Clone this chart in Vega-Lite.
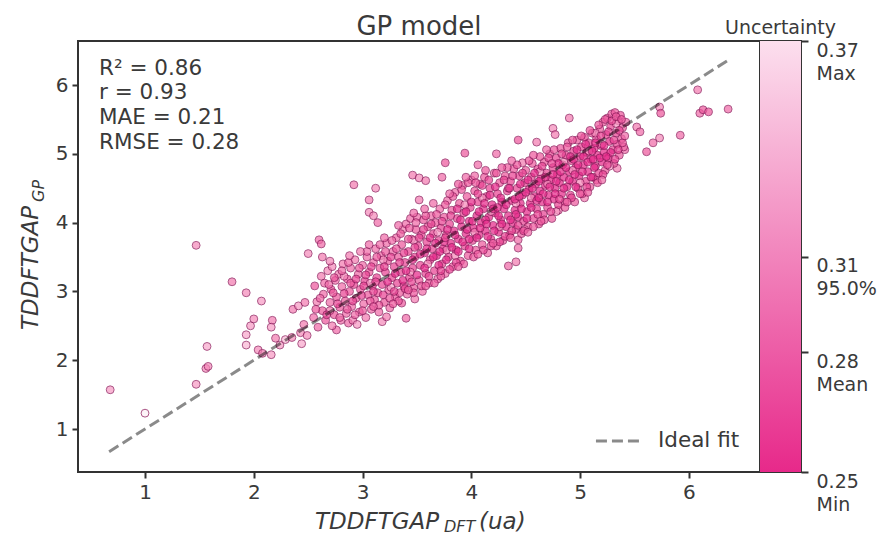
{"$schema":"https://vega.github.io/schema/vega-lite/v6.json","background":"white","bounds":"flush","padding":{"left":19,"top":13,"right":2,"bottom":1},"spacing":0,"config":{"view":{"stroke":"#333333","strokeWidth":2},"axis":{"grid":false,"domain":false,"tickColor":"#333333","tickWidth":2,"tickSize":6,"labelColor":"#3a3a3a","labelFont":"DejaVu Sans","titleFont":"DejaVu Sans"},"title":{"font":"DejaVu Sans","color":"#3a3a3a","fontWeight":"normal"},"text":{"font":"DejaVu Sans"}},"hconcat":[{"width":682,"height":431,"title":{"text":"GP model","fontSize":26,"offset":1},"encoding":{"x":{"field":"dft","type":"quantitative","scale":{"domain":[0.384,6.653],"nice":false,"zero":false},"axis":{"title":null,"values":[1,2,3,4,5,6],"labelFontSize":20,"labelPadding":4}},"y":{"field":"gp","type":"quantitative","scale":{"domain":[0.375,6.64],"nice":false,"zero":false},"axis":{"title":null,"values":[1,2,3,4,5,6],"labelFontSize":20,"labelPadding":4}}},"layer":[{"data":{"values":[
{"dft":0.68,"gp":1.57,"unc":0.31},{"dft":1.0,"gp":1.23,"unc":0.37},{"dft":1.47,"gp":3.67,"unc":0.3},{"dft":1.47,"gp":1.65,"unc":0.31},{"dft":1.56,"gp":1.88,"unc":0.3},{"dft":1.58,"gp":1.91,"unc":0.3},{"dft":1.57,"gp":2.2,"unc":0.32},{"dft":1.8,"gp":3.14,"unc":0.29},{"dft":1.93,"gp":2.98,"unc":0.3},{"dft":2.07,"gp":2.86,"unc":0.31},{"dft":2.0,"gp":2.6,"unc":0.3},{"dft":1.97,"gp":2.5,"unc":0.31},{"dft":1.93,"gp":2.37,"unc":0.32},{"dft":1.93,"gp":2.22,"unc":0.33},{"dft":2.04,"gp":2.15,"unc":0.3},{"dft":2.08,"gp":2.1,"unc":0.29},{"dft":2.16,"gp":2.08,"unc":0.31},{"dft":2.17,"gp":2.58,"unc":0.29},{"dft":2.16,"gp":2.48,"unc":0.31},{"dft":2.2,"gp":2.32,"unc":0.29},{"dft":2.24,"gp":2.22,"unc":0.31},{"dft":2.29,"gp":2.3,"unc":0.33},{"dft":2.35,"gp":2.33,"unc":0.3},{"dft":2.36,"gp":2.74,"unc":0.29},{"dft":2.41,"gp":2.79,"unc":0.31},{"dft":2.44,"gp":2.24,"unc":0.32},{"dft":2.43,"gp":2.4,"unc":0.3},{"dft":2.46,"gp":2.52,"unc":0.29},{"dft":2.47,"gp":2.84,"unc":0.29},{"dft":2.49,"gp":2.36,"unc":0.3},
{"dft":2.92,"gp":4.55,"unc":0.29},{"dft":3.12,"gp":4.5,"unc":0.3},{"dft":3.06,"gp":4.33,"unc":0.29},{"dft":3.06,"gp":4.15,"unc":0.3},{"dft":3.1,"gp":4.1,"unc":0.3},{"dft":3.14,"gp":4.0,"unc":0.28},{"dft":2.6,"gp":3.75,"unc":0.28},{"dft":2.62,"gp":3.69,"unc":0.28},{"dft":2.5,"gp":3.55,"unc":0.3},{"dft":2.63,"gp":3.5,"unc":0.29},{"dft":3.46,"gp":4.69,"unc":0.29},{"dft":3.52,"gp":4.65,"unc":0.3},{"dft":3.58,"gp":4.61,"unc":0.29},{"dft":3.73,"gp":4.66,"unc":0.28},{"dft":3.52,"gp":4.33,"unc":0.29},{"dft":3.94,"gp":5.01,"unc":0.27},{"dft":3.76,"gp":4.87,"unc":0.27},{"dft":4.06,"gp":4.84,"unc":0.28},{"dft":4.23,"gp":5.0,"unc":0.28},{"dft":4.43,"gp":5.2,"unc":0.27},{"dft":4.9,"gp":5.52,"unc":0.29},{"dft":4.75,"gp":5.37,"unc":0.3},{"dft":4.77,"gp":5.28,"unc":0.29},{"dft":4.6,"gp":5.17,"unc":0.29},{"dft":4.47,"gp":4.87,"unc":0.29},{"dft":5.52,"gp":5.39,"unc":0.29},{"dft":5.55,"gp":5.32,"unc":0.28},{"dft":5.73,"gp":5.68,"unc":0.3},{"dft":5.74,"gp":5.59,"unc":0.27},{"dft":6.08,"gp":5.93,"unc":0.29},{"dft":6.1,"gp":5.59,"unc":0.28},{"dft":6.13,"gp":5.64,"unc":0.27},{"dft":6.18,"gp":5.61,"unc":0.27},{"dft":6.36,"gp":5.65,"unc":0.28},{"dft":5.92,"gp":5.27,"unc":0.28},{"dft":5.73,"gp":5.23,"unc":0.3},{"dft":5.67,"gp":5.16,"unc":0.28},{"dft":5.61,"gp":5.03,"unc":0.27},{"dft":4.34,"gp":3.37,"unc":0.28},{"dft":4.41,"gp":3.43,"unc":0.29},{"dft":4.43,"gp":3.63,"unc":0.28},{"dft":4.43,"gp":3.75,"unc":0.28},{"dft":4.8,"gp":4.18,"unc":0.29},{"dft":5.04,"gp":4.36,"unc":0.29},{"dft":5.34,"gp":4.79,"unc":0.29},{"dft":5.15,"gp":4.62,"unc":0.28},{"dft":5.41,"gp":5.06,"unc":0.28},{"dft":3.36,"gp":2.83,"unc":0.27},{"dft":3.48,"gp":2.89,"unc":0.29},{"dft":3.4,"gp":2.61,"unc":0.28},{"dft":3.18,"gp":2.56,"unc":0.3},{"dft":3.22,"gp":2.63,"unc":0.29},{"dft":2.76,"gp":2.44,"unc":0.28},{"dft":2.87,"gp":2.54,"unc":0.28},
{"dft":2.55,"gp":2.62,"unc":0.28},{"dft":2.58,"gp":2.85,"unc":0.29},{"dft":2.56,"gp":3.08,"unc":0.27},{"dft":2.59,"gp":2.48,"unc":0.28},{"dft":2.62,"gp":3.22,"unc":0.29},{"dft":2.63,"gp":2.72,"unc":0.27},{"dft":2.64,"gp":2.96,"unc":0.28},{"dft":2.65,"gp":3.12,"unc":0.28},{"dft":2.66,"gp":2.58,"unc":0.27},{"dft":2.68,"gp":3.3,"unc":0.3},{"dft":2.7,"gp":2.84,"unc":0.28},{"dft":2.71,"gp":3.03,"unc":0.27},{"dft":2.72,"gp":2.5,"unc":0.29},{"dft":2.74,"gp":2.66,"unc":0.27},{"dft":2.75,"gp":3.16,"unc":0.28},{"dft":2.76,"gp":2.92,"unc":0.27},{"dft":2.78,"gp":3.25,"unc":0.29},{"dft":2.79,"gp":2.77,"unc":0.27},{"dft":2.8,"gp":2.58,"unc":0.28},{"dft":2.81,"gp":3.07,"unc":0.28},{"dft":2.82,"gp":3.4,"unc":0.29},{"dft":2.84,"gp":2.86,"unc":0.27},{"dft":2.85,"gp":2.68,"unc":0.28},{"dft":2.86,"gp":3.18,"unc":0.27},{"dft":2.88,"gp":3.0,"unc":0.27},{"dft":2.89,"gp":3.34,"unc":0.28},{"dft":2.9,"gp":2.78,"unc":0.28},{"dft":2.91,"gp":2.58,"unc":0.29},{"dft":2.92,"gp":3.1,"unc":0.26},{"dft":2.93,"gp":3.46,"unc":0.29},{"dft":2.94,"gp":2.9,"unc":0.27},{"dft":2.96,"gp":3.25,"unc":0.28},{"dft":2.97,"gp":2.7,"unc":0.28},{"dft":2.98,"gp":3.03,"unc":0.27},{"dft":3.0,"gp":3.38,"unc":0.28},{"dft":3.01,"gp":2.82,"unc":0.28},{"dft":3.02,"gp":3.15,"unc":0.26},{"dft":3.03,"gp":2.62,"unc":0.29},{"dft":3.04,"gp":3.5,"unc":0.28},{"dft":3.05,"gp":2.95,"unc":0.27},{"dft":3.06,"gp":3.28,"unc":0.27},{"dft":3.08,"gp":2.74,"unc":0.28},{"dft":3.09,"gp":3.08,"unc":0.26},{"dft":3.1,"gp":3.42,"unc":0.28},{"dft":3.11,"gp":2.88,"unc":0.27},{"dft":3.12,"gp":3.62,"unc":0.28},{"dft":3.13,"gp":3.2,"unc":0.26},{"dft":3.14,"gp":2.98,"unc":0.27},{"dft":3.15,"gp":2.7,"unc":0.28},{"dft":3.16,"gp":3.34,"unc":0.27},{"dft":3.17,"gp":3.52,"unc":0.28},{"dft":3.18,"gp":3.1,"unc":0.26},{"dft":3.2,"gp":2.84,"unc":0.27},{"dft":3.21,"gp":3.28,"unc":0.26},{"dft":3.22,"gp":3.7,"unc":0.28},{"dft":3.23,"gp":3.44,"unc":0.27},{"dft":3.24,"gp":3.02,"unc":0.27},{"dft":3.25,"gp":2.76,"unc":0.28},{"dft":3.27,"gp":3.2,"unc":0.26},{"dft":3.28,"gp":3.58,"unc":0.28},{"dft":3.29,"gp":3.36,"unc":0.26},{"dft":3.3,"gp":2.92,"unc":0.27},{"dft":3.31,"gp":3.78,"unc":0.28},{"dft":3.32,"gp":3.12,"unc":0.26},{"dft":3.33,"gp":3.5,"unc":0.27},{"dft":3.34,"gp":2.98,"unc":0.27},{"dft":3.35,"gp":3.28,"unc":0.26},{"dft":3.36,"gp":3.68,"unc":0.27},{"dft":3.37,"gp":3.9,"unc":0.29},{"dft":3.38,"gp":3.08,"unc":0.26},{"dft":3.39,"gp":3.42,"unc":0.26},{"dft":3.4,"gp":3.98,"unc":0.28},{"dft":3.41,"gp":2.96,"unc":0.28},{"dft":3.42,"gp":3.58,"unc":0.26},{"dft":3.43,"gp":3.2,"unc":0.26},{"dft":3.44,"gp":4.06,"unc":0.28},{"dft":3.45,"gp":3.76,"unc":0.27},{"dft":3.46,"gp":3.34,"unc":0.26},{"dft":3.47,"gp":3.05,"unc":0.27},{"dft":3.48,"gp":3.5,"unc":0.26},{"dft":3.49,"gp":3.9,"unc":0.27},{"dft":3.5,"gp":4.08,"unc":0.28},{"dft":3.51,"gp":3.66,"unc":0.26},{"dft":3.52,"gp":3.16,"unc":0.27},{"dft":3.53,"gp":3.38,"unc":0.26},{"dft":3.54,"gp":3.82,"unc":0.26},{"dft":3.55,"gp":3.0,"unc":0.28},{"dft":3.56,"gp":4.04,"unc":0.27},{"dft":3.57,"gp":3.56,"unc":0.25},{"dft":3.58,"gp":3.26,"unc":0.26},{"dft":3.59,"gp":3.72,"unc":0.26},{"dft":3.6,"gp":3.94,"unc":0.27},{"dft":3.61,"gp":3.12,"unc":0.27},{"dft":3.62,"gp":3.46,"unc":0.26},{"dft":3.63,"gp":4.1,"unc":0.28},{"dft":3.64,"gp":3.62,"unc":0.26},{"dft":3.65,"gp":3.84,"unc":0.26},{"dft":3.66,"gp":3.3,"unc":0.26},{"dft":3.67,"gp":4.0,"unc":0.27},{"dft":3.68,"gp":3.52,"unc":0.25},{"dft":3.69,"gp":3.18,"unc":0.28},{"dft":3.7,"gp":3.74,"unc":0.26},{"dft":3.71,"gp":4.2,"unc":0.28},{"dft":3.72,"gp":3.92,"unc":0.26},{"dft":3.73,"gp":3.4,"unc":0.26},{"dft":3.74,"gp":3.62,"unc":0.25},{"dft":3.75,"gp":4.08,"unc":0.27},{"dft":3.76,"gp":3.26,"unc":0.28},{"dft":3.77,"gp":3.82,"unc":0.26},{"dft":3.78,"gp":4.32,"unc":0.28},{"dft":3.79,"gp":3.5,"unc":0.26},{"dft":3.8,"gp":3.98,"unc":0.26},{"dft":3.81,"gp":3.7,"unc":0.25},{"dft":3.82,"gp":4.18,"unc":0.27},{"dft":3.83,"gp":3.36,"unc":0.27},{"dft":3.84,"gp":3.88,"unc":0.25},{"dft":3.85,"gp":4.44,"unc":0.28},{"dft":3.86,"gp":3.6,"unc":0.26},{"dft":3.87,"gp":4.06,"unc":0.26},{"dft":3.88,"gp":3.76,"unc":0.25},{"dft":3.89,"gp":4.28,"unc":0.27},{"dft":3.9,"gp":3.44,"unc":0.27},{"dft":3.91,"gp":3.94,"unc":0.25},{"dft":3.92,"gp":4.54,"unc":0.28},{"dft":3.93,"gp":4.14,"unc":0.26},{"dft":3.94,"gp":3.66,"unc":0.26},{"dft":3.95,"gp":3.84,"unc":0.25},{"dft":3.96,"gp":4.38,"unc":0.27},{"dft":3.97,"gp":3.52,"unc":0.27},{"dft":3.98,"gp":4.02,"unc":0.25},{"dft":3.99,"gp":4.22,"unc":0.26},{"dft":4.0,"gp":4.62,"unc":0.28},{"dft":4.01,"gp":3.74,"unc":0.26},{"dft":4.02,"gp":3.92,"unc":0.25},{"dft":4.03,"gp":4.46,"unc":0.27},{"dft":4.04,"gp":3.6,"unc":0.27},{"dft":4.05,"gp":4.1,"unc":0.25},{"dft":4.06,"gp":4.3,"unc":0.26},{"dft":4.07,"gp":3.82,"unc":0.25},{"dft":4.08,"gp":4.56,"unc":0.27},{"dft":4.09,"gp":4.0,"unc":0.25},{"dft":4.1,"gp":3.68,"unc":0.27},{"dft":4.11,"gp":4.2,"unc":0.25},{"dft":4.12,"gp":4.66,"unc":0.27},{"dft":4.13,"gp":3.88,"unc":0.25},{"dft":4.14,"gp":4.38,"unc":0.26},{"dft":4.15,"gp":3.56,"unc":0.28},{"dft":4.16,"gp":4.08,"unc":0.25},{"dft":4.17,"gp":4.5,"unc":0.26},{"dft":4.18,"gp":3.76,"unc":0.26},{"dft":4.19,"gp":4.26,"unc":0.25},{"dft":4.2,"gp":3.96,"unc":0.25},{"dft":4.21,"gp":4.72,"unc":0.28},{"dft":4.22,"gp":4.14,"unc":0.25},{"dft":4.23,"gp":3.66,"unc":0.27},{"dft":4.24,"gp":4.42,"unc":0.26},{"dft":4.25,"gp":3.86,"unc":0.25},{"dft":4.26,"gp":4.58,"unc":0.27},{"dft":4.27,"gp":4.04,"unc":0.25},{"dft":4.28,"gp":4.3,"unc":0.25},{"dft":4.29,"gp":3.74,"unc":0.27},{"dft":4.3,"gp":4.2,"unc":0.25},{"dft":4.31,"gp":4.68,"unc":0.27},{"dft":4.32,"gp":3.94,"unc":0.25},{"dft":4.33,"gp":4.46,"unc":0.26},{"dft":4.34,"gp":4.1,"unc":0.25},{"dft":4.35,"gp":3.82,"unc":0.26},{"dft":4.36,"gp":4.6,"unc":0.26},{"dft":4.37,"gp":4.32,"unc":0.25},{"dft":4.38,"gp":4.0,"unc":0.25},{"dft":4.39,"gp":4.78,"unc":0.27},{"dft":4.4,"gp":4.18,"unc":0.25},{"dft":4.41,"gp":3.9,"unc":0.26},{"dft":4.42,"gp":4.5,"unc":0.26},{"dft":4.43,"gp":4.08,"unc":0.25},{"dft":4.44,"gp":4.68,"unc":0.26},{"dft":4.45,"gp":4.28,"unc":0.25},{"dft":4.46,"gp":3.84,"unc":0.27},{"dft":4.47,"gp":4.4,"unc":0.25},{"dft":4.48,"gp":4.02,"unc":0.26},{"dft":4.49,"gp":4.58,"unc":0.26},{"dft":4.5,"gp":4.76,"unc":0.27},{"dft":4.51,"gp":4.16,"unc":0.25},{"dft":4.52,"gp":3.94,"unc":0.27},{"dft":4.53,"gp":4.48,"unc":0.25},{"dft":4.54,"gp":4.28,"unc":0.25},{"dft":4.55,"gp":4.66,"unc":0.26},{"dft":4.56,"gp":4.86,"unc":0.27},{"dft":4.57,"gp":4.06,"unc":0.26},{"dft":4.58,"gp":4.38,"unc":0.25},{"dft":4.59,"gp":4.56,"unc":0.25},{"dft":4.6,"gp":4.2,"unc":0.26},{"dft":4.61,"gp":4.78,"unc":0.26},{"dft":4.62,"gp":3.98,"unc":0.27},{"dft":4.63,"gp":4.46,"unc":0.25},{"dft":4.64,"gp":4.64,"unc":0.25},{"dft":4.65,"gp":4.3,"unc":0.25},{"dft":4.66,"gp":4.12,"unc":0.26},{"dft":4.67,"gp":4.88,"unc":0.27},{"dft":4.68,"gp":4.54,"unc":0.25},{"dft":4.69,"gp":4.72,"unc":0.26},{"dft":4.7,"gp":4.22,"unc":0.26},{"dft":4.71,"gp":4.4,"unc":0.25},{"dft":4.72,"gp":5.0,"unc":0.27},{"dft":4.73,"gp":4.62,"unc":0.25},{"dft":4.74,"gp":4.06,"unc":0.27},{"dft":4.75,"gp":4.8,"unc":0.26},{"dft":4.76,"gp":4.34,"unc":0.25},{"dft":4.77,"gp":4.5,"unc":0.25},{"dft":4.78,"gp":4.94,"unc":0.26},{"dft":4.79,"gp":4.7,"unc":0.25},{"dft":4.8,"gp":4.26,"unc":0.26},{"dft":4.81,"gp":4.58,"unc":0.25},{"dft":4.82,"gp":5.08,"unc":0.27},{"dft":4.83,"gp":4.42,"unc":0.25},{"dft":4.84,"gp":4.84,"unc":0.26},{"dft":4.85,"gp":4.66,"unc":0.25},{"dft":4.86,"gp":4.3,"unc":0.27},{"dft":4.87,"gp":4.98,"unc":0.26},{"dft":4.88,"gp":4.52,"unc":0.25},{"dft":4.89,"gp":5.16,"unc":0.27},{"dft":4.9,"gp":4.74,"unc":0.25},{"dft":4.91,"gp":4.4,"unc":0.26},{"dft":4.92,"gp":4.9,"unc":0.26},{"dft":4.93,"gp":4.6,"unc":0.25},{"dft":4.94,"gp":5.04,"unc":0.26},{"dft":4.95,"gp":4.3,"unc":0.27},{"dft":4.96,"gp":4.8,"unc":0.25},{"dft":4.97,"gp":5.2,"unc":0.27},{"dft":4.98,"gp":4.5,"unc":0.26},{"dft":4.99,"gp":4.68,"unc":0.25},{"dft":5.0,"gp":4.96,"unc":0.25},{"dft":5.01,"gp":5.1,"unc":0.26},{"dft":5.02,"gp":4.42,"unc":0.27},{"dft":5.03,"gp":4.84,"unc":0.25},{"dft":5.04,"gp":5.24,"unc":0.26},{"dft":5.05,"gp":4.6,"unc":0.26},{"dft":5.06,"gp":5.02,"unc":0.25},{"dft":5.07,"gp":4.74,"unc":0.25},{"dft":5.08,"gp":5.16,"unc":0.26},{"dft":5.09,"gp":4.52,"unc":0.27},{"dft":5.1,"gp":4.92,"unc":0.25},{"dft":5.11,"gp":5.3,"unc":0.27},{"dft":5.12,"gp":4.66,"unc":0.26},{"dft":5.13,"gp":5.08,"unc":0.25},{"dft":5.14,"gp":4.82,"unc":0.25},{"dft":5.15,"gp":5.22,"unc":0.26},{"dft":5.16,"gp":4.98,"unc":0.25},{"dft":5.17,"gp":4.72,"unc":0.26},{"dft":5.18,"gp":5.36,"unc":0.27},{"dft":5.19,"gp":5.12,"unc":0.25},{"dft":5.2,"gp":4.88,"unc":0.25},{"dft":5.21,"gp":5.46,"unc":0.27},{"dft":5.22,"gp":5.02,"unc":0.25},{"dft":5.23,"gp":4.76,"unc":0.27},{"dft":5.24,"gp":5.28,"unc":0.26},{"dft":5.25,"gp":5.52,"unc":0.27},{"dft":5.26,"gp":4.94,"unc":0.25},{"dft":5.27,"gp":5.18,"unc":0.25},{"dft":5.28,"gp":5.4,"unc":0.26},{"dft":5.29,"gp":5.58,"unc":0.27},{"dft":5.3,"gp":5.06,"unc":0.26},{"dft":5.31,"gp":4.86,"unc":0.27},{"dft":5.32,"gp":5.6,"unc":0.27},{"dft":5.33,"gp":5.3,"unc":0.26},{"dft":5.34,"gp":5.14,"unc":0.26},{"dft":5.35,"gp":5.48,"unc":0.26},{"dft":5.36,"gp":4.98,"unc":0.27},{"dft":5.37,"gp":5.56,"unc":0.27},{"dft":5.38,"gp":5.22,"unc":0.27},{"dft":5.39,"gp":5.38,"unc":0.27},{"dft":5.4,"gp":5.1,"unc":0.28},{"dft":5.42,"gp":5.46,"unc":0.28},
{"dft":2.7,"gp":2.72,"unc":0.29},{"dft":2.83,"gp":3.22,"unc":0.3},{"dft":2.95,"gp":2.52,"unc":0.31},{"dft":3.07,"gp":3.12,"unc":0.31},{"dft":3.19,"gp":3.46,"unc":0.3},{"dft":3.26,"gp":3.06,"unc":0.32},{"dft":3.44,"gp":3.28,"unc":0.3},{"dft":3.47,"gp":3.74,"unc":0.31},{"dft":3.6,"gp":3.4,"unc":0.3},{"dft":3.69,"gp":3.86,"unc":0.31},{"dft":3.77,"gp":3.6,"unc":0.29},{"dft":3.85,"gp":3.52,"unc":0.3},{"dft":3.94,"gp":4.26,"unc":0.3},{"dft":4.03,"gp":3.86,"unc":0.29},{"dft":4.1,"gp":4.36,"unc":0.3},{"dft":4.18,"gp":4.16,"unc":0.31},{"dft":4.26,"gp":3.94,"unc":0.3},{"dft":4.34,"gp":4.5,"unc":0.3},{"dft":4.41,"gp":4.28,"unc":0.31},{"dft":4.49,"gp":3.9,"unc":0.3},{"dft":4.55,"gp":4.36,"unc":0.3},{"dft":4.63,"gp":4.74,"unc":0.31},{"dft":4.7,"gp":4.56,"unc":0.3},{"dft":4.78,"gp":4.16,"unc":0.31},{"dft":4.85,"gp":4.88,"unc":0.3},{"dft":4.93,"gp":4.76,"unc":0.31},{"dft":5.0,"gp":4.58,"unc":0.3},{"dft":5.08,"gp":5.04,"unc":0.31},{"dft":5.14,"gp":5.3,"unc":0.3},{"dft":5.2,"gp":5.14,"unc":0.31},{"dft":5.27,"gp":4.82,"unc":0.31},{"dft":5.33,"gp":5.44,"unc":0.31},
{"dft":2.57,"gp":2.74,"unc":0.27},{"dft":2.61,"gp":2.9,"unc":0.28},{"dft":2.67,"gp":2.66,"unc":0.26},{"dft":2.69,"gp":3.1,"unc":0.28},{"dft":2.73,"gp":2.98,"unc":0.27},{"dft":2.72,"gp":3.36,"unc":0.3},{"dft":2.77,"gp":2.82,"unc":0.26},{"dft":2.74,"gp":3.2,"unc":0.27},{"dft":2.79,"gp":2.62,"unc":0.28},{"dft":2.83,"gp":2.97,"unc":0.26},{"dft":2.81,"gp":3.3,"unc":0.28},{"dft":2.86,"gp":2.74,"unc":0.27},{"dft":2.89,"gp":3.12,"unc":0.27},{"dft":2.87,"gp":3.42,"unc":0.28},{"dft":2.91,"gp":2.86,"unc":0.26},{"dft":2.94,"gp":3.18,"unc":0.26},{"dft":2.93,"gp":2.66,"unc":0.28},{"dft":2.97,"gp":3.34,"unc":0.27},{"dft":2.99,"gp":2.94,"unc":0.26},{"dft":3.01,"gp":3.08,"unc":0.26},{"dft":3.0,"gp":2.72,"unc":0.27},{"dft":3.03,"gp":3.24,"unc":0.26},{"dft":3.04,"gp":3.58,"unc":0.28},{"dft":3.07,"gp":2.86,"unc":0.27},{"dft":3.08,"gp":3.36,"unc":0.26},{"dft":3.1,"gp":3.0,"unc":0.26},{"dft":3.12,"gp":3.14,"unc":0.26},{"dft":3.13,"gp":3.5,"unc":0.27},{"dft":3.15,"gp":2.8,"unc":0.27},{"dft":3.16,"gp":3.68,"unc":0.28},{"dft":3.19,"gp":2.95,"unc":0.26},{"dft":3.2,"gp":3.36,"unc":0.26},{"dft":3.21,"gp":3.58,"unc":0.27},{"dft":3.23,"gp":3.14,"unc":0.25},{"dft":3.25,"gp":2.9,"unc":0.27},{"dft":3.26,"gp":3.5,"unc":0.26},{"dft":3.27,"gp":3.74,"unc":0.28},{"dft":3.29,"gp":3.0,"unc":0.26},{"dft":3.3,"gp":3.26,"unc":0.25},{"dft":3.31,"gp":3.62,"unc":0.27},{"dft":3.33,"gp":2.86,"unc":0.27},{"dft":3.34,"gp":3.42,"unc":0.26},{"dft":3.35,"gp":3.84,"unc":0.27},{"dft":3.37,"gp":3.16,"unc":0.25},{"dft":3.38,"gp":3.56,"unc":0.26},{"dft":3.39,"gp":3.04,"unc":0.26},{"dft":3.4,"gp":3.3,"unc":0.25},{"dft":3.42,"gp":3.76,"unc":0.27},{"dft":3.43,"gp":3.92,"unc":0.27},{"dft":3.45,"gp":3.14,"unc":0.26},{"dft":3.46,"gp":3.46,"unc":0.25},{"dft":3.47,"gp":2.98,"unc":0.27},{"dft":3.48,"gp":3.64,"unc":0.26},{"dft":3.49,"gp":4.0,"unc":0.28},{"dft":3.5,"gp":3.24,"unc":0.25},{"dft":3.52,"gp":3.78,"unc":0.26},{"dft":3.53,"gp":3.54,"unc":0.25},{"dft":3.54,"gp":3.08,"unc":0.27},{"dft":3.56,"gp":3.9,"unc":0.26},{"dft":3.57,"gp":3.34,"unc":0.25},{"dft":3.58,"gp":4.1,"unc":0.27},{"dft":3.59,"gp":3.62,"unc":0.25},{"dft":3.61,"gp":3.22,"unc":0.26},{"dft":3.62,"gp":3.78,"unc":0.25},{"dft":3.63,"gp":3.98,"unc":0.26},{"dft":3.65,"gp":3.5,"unc":0.25},{"dft":3.66,"gp":3.12,"unc":0.27},{"dft":3.67,"gp":3.7,"unc":0.25},{"dft":3.68,"gp":4.12,"unc":0.27},{"dft":3.7,"gp":3.38,"unc":0.25},{"dft":3.71,"gp":3.58,"unc":0.25},{"dft":3.72,"gp":3.22,"unc":0.27},{"dft":3.73,"gp":4.02,"unc":0.26},{"dft":3.75,"gp":3.72,"unc":0.25},{"dft":3.76,"gp":4.26,"unc":0.27},{"dft":3.77,"gp":3.46,"unc":0.25},{"dft":3.78,"gp":3.9,"unc":0.25},{"dft":3.8,"gp":3.32,"unc":0.26},{"dft":3.81,"gp":4.1,"unc":0.26},{"dft":3.82,"gp":3.64,"unc":0.25},{"dft":3.83,"gp":4.38,"unc":0.27},{"dft":3.85,"gp":3.82,"unc":0.25},{"dft":3.86,"gp":3.42,"unc":0.26},{"dft":3.87,"gp":4.2,"unc":0.25},{"dft":3.88,"gp":3.58,"unc":0.25},{"dft":3.9,"gp":4.04,"unc":0.25},{"dft":3.91,"gp":4.48,"unc":0.27},{"dft":3.92,"gp":3.72,"unc":0.25},{"dft":3.93,"gp":3.4,"unc":0.27},{"dft":3.95,"gp":4.16,"unc":0.25},{"dft":3.96,"gp":3.9,"unc":0.25},{"dft":3.97,"gp":4.58,"unc":0.27},{"dft":3.98,"gp":3.62,"unc":0.25},{"dft":4.0,"gp":4.3,"unc":0.25},{"dft":4.01,"gp":4.02,"unc":0.25},{"dft":4.02,"gp":3.5,"unc":0.27},{"dft":4.03,"gp":4.68,"unc":0.28},{"dft":4.05,"gp":3.78,"unc":0.25},{"dft":4.06,"gp":4.42,"unc":0.26},{"dft":4.07,"gp":4.16,"unc":0.25},{"dft":4.08,"gp":3.92,"unc":0.25},{"dft":4.1,"gp":4.54,"unc":0.26},{"dft":4.11,"gp":3.6,"unc":0.26},{"dft":4.12,"gp":4.28,"unc":0.25},{"dft":4.13,"gp":4.04,"unc":0.25},{"dft":4.15,"gp":3.8,"unc":0.25},{"dft":4.16,"gp":4.62,"unc":0.26},{"dft":4.17,"gp":4.4,"unc":0.25},{"dft":4.18,"gp":3.66,"unc":0.26},{"dft":4.2,"gp":4.2,"unc":0.25},{"dft":4.21,"gp":3.88,"unc":0.25},{"dft":4.22,"gp":4.52,"unc":0.25},{"dft":4.23,"gp":4.72,"unc":0.27},{"dft":4.25,"gp":4.1,"unc":0.25},{"dft":4.26,"gp":3.72,"unc":0.26},{"dft":4.27,"gp":4.36,"unc":0.25},{"dft":4.28,"gp":3.98,"unc":0.25},{"dft":4.3,"gp":4.62,"unc":0.26},{"dft":4.31,"gp":3.8,"unc":0.26},{"dft":4.32,"gp":4.26,"unc":0.25},{"dft":4.33,"gp":4.8,"unc":0.27},{"dft":4.35,"gp":4.5,"unc":0.25},{"dft":4.36,"gp":4.04,"unc":0.25},{"dft":4.37,"gp":3.88,"unc":0.26},{"dft":4.38,"gp":4.68,"unc":0.26},{"dft":4.4,"gp":4.34,"unc":0.25},{"dft":4.41,"gp":4.12,"unc":0.25},{"dft":4.42,"gp":4.84,"unc":0.27},{"dft":4.43,"gp":3.96,"unc":0.26},{"dft":4.45,"gp":4.56,"unc":0.25},{"dft":4.46,"gp":4.2,"unc":0.25},{"dft":4.47,"gp":4.72,"unc":0.26},{"dft":4.48,"gp":3.88,"unc":0.26},{"dft":4.5,"gp":4.44,"unc":0.25},{"dft":4.51,"gp":4.06,"unc":0.25},{"dft":4.52,"gp":4.62,"unc":0.25},{"dft":4.53,"gp":4.9,"unc":0.27},{"dft":4.55,"gp":4.22,"unc":0.25},{"dft":4.56,"gp":4.5,"unc":0.25},{"dft":4.57,"gp":3.94,"unc":0.27},{"dft":4.58,"gp":4.72,"unc":0.25},{"dft":4.6,"gp":4.32,"unc":0.25},{"dft":4.61,"gp":4.12,"unc":0.26},{"dft":4.62,"gp":4.6,"unc":0.25},{"dft":4.63,"gp":4.96,"unc":0.27},{"dft":4.65,"gp":4.82,"unc":0.26},{"dft":4.66,"gp":4.42,"unc":0.25},{"dft":4.67,"gp":4.04,"unc":0.27},{"dft":4.68,"gp":4.66,"unc":0.25},{"dft":4.7,"gp":4.3,"unc":0.25},{"dft":4.71,"gp":4.94,"unc":0.26},{"dft":4.72,"gp":4.52,"unc":0.25},{"dft":4.73,"gp":4.16,"unc":0.26},{"dft":4.75,"gp":4.7,"unc":0.25},{"dft":4.76,"gp":5.06,"unc":0.27},{"dft":4.77,"gp":4.42,"unc":0.25},{"dft":4.78,"gp":4.6,"unc":0.25},{"dft":4.8,"gp":4.86,"unc":0.25},{"dft":4.81,"gp":4.34,"unc":0.26},{"dft":4.82,"gp":4.74,"unc":0.25},{"dft":4.83,"gp":5.0,"unc":0.26},{"dft":4.85,"gp":4.5,"unc":0.25},{"dft":4.86,"gp":4.22,"unc":0.27},{"dft":4.87,"gp":4.8,"unc":0.25},{"dft":4.88,"gp":5.1,"unc":0.27},{"dft":4.9,"gp":4.62,"unc":0.25},{"dft":4.91,"gp":4.96,"unc":0.25},{"dft":4.92,"gp":4.36,"unc":0.26},{"dft":4.93,"gp":5.2,"unc":0.27},{"dft":4.95,"gp":4.7,"unc":0.25},{"dft":4.96,"gp":4.52,"unc":0.25},{"dft":4.97,"gp":5.06,"unc":0.25},{"dft":4.98,"gp":4.84,"unc":0.25},{"dft":5.0,"gp":4.42,"unc":0.27},{"dft":5.01,"gp":5.26,"unc":0.27},{"dft":5.02,"gp":4.74,"unc":0.25},{"dft":5.03,"gp":4.96,"unc":0.25},{"dft":5.05,"gp":5.14,"unc":0.25},{"dft":5.06,"gp":4.52,"unc":0.26},{"dft":5.07,"gp":4.88,"unc":0.25},{"dft":5.09,"gp":5.34,"unc":0.27},{"dft":5.1,"gp":4.66,"unc":0.25},{"dft":5.11,"gp":5.04,"unc":0.25},{"dft":5.13,"gp":4.8,"unc":0.25},{"dft":5.14,"gp":5.16,"unc":0.25},{"dft":5.16,"gp":4.58,"unc":0.27},{"dft":5.17,"gp":5.42,"unc":0.27},{"dft":5.18,"gp":4.94,"unc":0.25},{"dft":5.19,"gp":5.26,"unc":0.26},{"dft":5.21,"gp":4.7,"unc":0.26},{"dft":5.22,"gp":5.12,"unc":0.25},{"dft":5.23,"gp":5.5,"unc":0.27},{"dft":5.25,"gp":4.84,"unc":0.26},{"dft":5.26,"gp":5.32,"unc":0.26},{"dft":5.28,"gp":5.02,"unc":0.25},{"dft":5.29,"gp":5.48,"unc":0.26},{"dft":5.31,"gp":5.2,"unc":0.26},{"dft":5.32,"gp":4.92,"unc":0.26},{"dft":5.33,"gp":5.54,"unc":0.27},{"dft":5.35,"gp":5.06,"unc":0.26},{"dft":5.36,"gp":5.34,"unc":0.26},{"dft":5.38,"gp":5.5,"unc":0.27},{"dft":5.39,"gp":5.16,"unc":0.27},{"dft":5.41,"gp":5.26,"unc":0.28},
{"dft":3.47,"gp":4.14,"unc":0.28},{"dft":3.57,"gp":4.2,"unc":0.28},{"dft":3.65,"gp":4.28,"unc":0.28},{"dft":3.8,"gp":4.42,"unc":0.28},{"dft":3.88,"gp":4.56,"unc":0.27},{"dft":3.95,"gp":4.66,"unc":0.28},{"dft":4.04,"gp":4.58,"unc":0.27},{"dft":4.13,"gp":4.76,"unc":0.27},{"dft":4.28,"gp":4.8,"unc":0.27},{"dft":4.37,"gp":4.9,"unc":0.28},{"dft":4.57,"gp":4.98,"unc":0.27},{"dft":4.69,"gp":5.06,"unc":0.28},{"dft":3.1,"gp":2.78,"unc":0.27},{"dft":3.28,"gp":2.82,"unc":0.27},{"dft":3.42,"gp":3.02,"unc":0.27},{"dft":3.58,"gp":3.08,"unc":0.27},{"dft":3.72,"gp":3.3,"unc":0.26},{"dft":3.88,"gp":3.36,"unc":0.27},{"dft":4.06,"gp":3.54,"unc":0.27},{"dft":4.2,"gp":3.7,"unc":0.27},{"dft":4.36,"gp":3.78,"unc":0.27},{"dft":4.52,"gp":3.86,"unc":0.28},{"dft":4.64,"gp":4.02,"unc":0.27},{"dft":4.88,"gp":4.3,"unc":0.27},{"dft":5.07,"gp":4.44,"unc":0.27},{"dft":5.2,"gp":4.62,"unc":0.28},{"dft":2.98,"gp":3.58,"unc":0.29},{"dft":2.7,"gp":3.44,"unc":0.3},{"dft":2.88,"gp":3.52,"unc":0.29},{"dft":3.06,"gp":3.68,"unc":0.28},{"dft":3.2,"gp":3.78,"unc":0.28},{"dft":3.33,"gp":3.96,"unc":0.28},{"dft":3.76,"gp":3.78,"unc":0.26},{"dft":3.98,"gp":3.76,"unc":0.25},{"dft":4.14,"gp":3.98,"unc":0.25},{"dft":4.24,"gp":4.22,"unc":0.25},{"dft":4.44,"gp":4.38,"unc":0.25},{"dft":4.62,"gp":4.36,"unc":0.25},{"dft":4.74,"gp":4.86,"unc":0.26},{"dft":4.94,"gp":4.92,"unc":0.25},{"dft":5.12,"gp":4.92,"unc":0.25},{"dft":5.24,"gp":4.96,"unc":0.25}
]},"mark":{"type":"circle","size":62,"opacity":0.72,"stroke":"#8a1658","strokeWidth":1},"encoding":{"color":{"field":"unc","type":"quantitative","legend":null,"scale":{"domain":[0.25,0.37],"range":["#e7298a","#fdf0f6"]}}}},{"data":{"values":[{"dft":0.67,"gp":0.67},{"dft":6.37,"gp":6.37}]},"mark":{"type":"line","color":"#000000","opacity":0.46,"strokeWidth":3,"strokeDash":[11,5]}},{"data":{"values":[{"dft":5.145,"gp":0.826},{"dft":5.57,"gp":0.826}]},"mark":{"type":"line","color":"#000000","opacity":0.46,"strokeWidth":3,"strokeDash":[11,5]}},{"data":{"values":[{"dft":5.715,"gp":0.826,"label":"Ideal fit"},{"dft":0.577,"gp":6.23,"label":"R² = 0.86"},{"dft":0.577,"gp":5.88,"label":"r = 0.93"},{"dft":0.577,"gp":5.52,"label":"MAE = 0.21"},{"dft":0.577,"gp":5.16,"label":"RMSE = 0.28"}]},"mark":{"type":"text","align":"left","baseline":"middle","fontSize":21.5,"color":"#3a3a3a"},"encoding":{"text":{"field":"label"}}},{"data":{"values":[{"dft":2.5625,"gp":-0.352,"label":"TDDFTGAP"},{"dft":3.748,"gp":-0.43,"label":"DFT"},{"dft":4.07,"gp":-0.352,"label":"(ua)"}]},"mark":{"type":"text","align":"left","baseline":"middle","fontStyle":"italic","color":"#3a3a3a"},"encoding":{"text":{"field":"label"},"size":{"condition":{"test":"datum.label === 'DFT'","value":16},"value":23}}},{"data":{"values":[{"dft":-0.048,"gp":2.439,"label":"TDDFTGAP"},{"dft":0.03,"gp":4.3,"label":"GP"}]},"mark":{"type":"text","align":"left","baseline":"middle","angle":270,"fontStyle":"italic","color":"#3a3a3a"},"encoding":{"text":{"field":"label"},"size":{"condition":{"test":"datum.label === 'GP'","value":16},"value":23}}}]},{"width":41,"height":431,"title":{"text":"Uncertainty","fontSize":19,"offset":2},"data":{"values":[{"low":0.25,"high":0.37}]},"mark":{"type":"rect","fill":{"gradient":"linear","x1":0,"y1":1,"x2":0,"y2":0,"stops":[{"offset":0,"color":"#e7298a"},{"offset":1,"color":"#fcdfee"}]}},"encoding":{"y":{"field":"low","type":"quantitative","scale":{"domain":[0.25,0.37],"nice":false,"zero":false},"axis":{"title":null,"orient":"right","values":[0.25,0.2834,0.3099,0.37],"tickSize":7,"labelFontSize":19,"labelBaseline":"top","labelLineHeight":23,"labelOverlap":false,"labelFlush":false,"labelBound":false,"labelPadding":8,"labelAlign":"left","labelExpr":"datum.value < 0.26 ? ['0.25','Min'] : datum.value < 0.29 ? ['0.28','Mean'] : datum.value < 0.32 ? ['0.31','95.0%'] : ['0.37','Max']"}},"y2":{"field":"high"}}}]}
